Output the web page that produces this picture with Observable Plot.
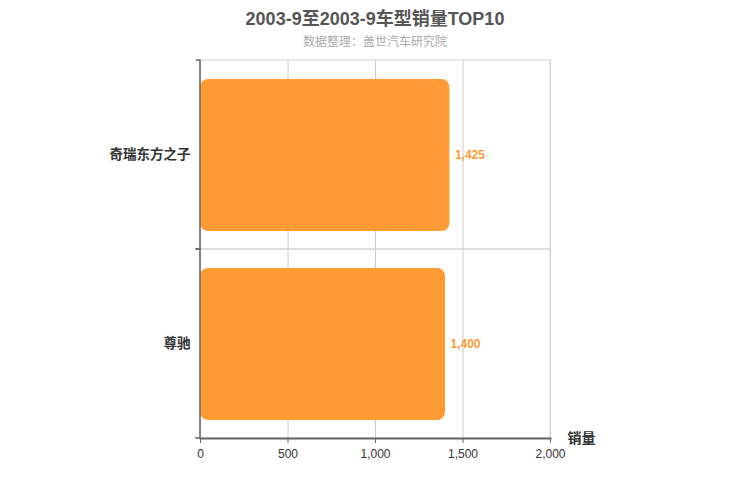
<!DOCTYPE html>
<html>
<head>
<meta charset="utf-8">
<script src="https://cdn.jsdelivr.net/npm/d3@7"></script>
<script src="https://cdn.jsdelivr.net/npm/@observablehq/plot@0.6"></script>
<style>
  body { margin: 0; background: #fff; font-family: "Liberation Sans", Arial, "Noto Sans CJK SC", sans-serif; }
  #wrap { position: relative; width: 750px; height: 500px; }
  #title { position: absolute; top: 4px; left: 0; width: 750px; text-align: center; font-size: 18px; font-weight: bold; color: #555; }
  #subtitle { position: absolute; top: 32px; left: 0; width: 750px; text-align: center; font-size: 12px; color: #aaa; }
</style>
</head>
<body>
<div id="wrap">
  <div id="chart"></div>
  <div id="title">2003-9至2003-9车型销量TOP10</div>
  <div id="subtitle">数据整理：盖世汽车研究院</div>
</div>
<script>
const categories = ["奇瑞东方之子", "尊驰"];
const sales = [1425, 1400];
const xTicks = [0, 500, 1000, 1500, 2000];
const xLabel = "销量";

const data = categories.map((c, i) => ({name: c, value: sales[i]}));
const orange = "#ff9b35";

const chart = Plot.plot({
  width: 750,
  height: 500,
  marginTop: 60,
  marginBottom: 62,
  marginLeft: 200,
  marginRight: 200,
  style: {fontFamily: '"Liberation Sans", Arial, "Noto Sans CJK SC", sans-serif', fontSize: "12px", color: "#333"},
  x: {domain: [0, 2000], ticks: xTicks},
  y: {domain: categories, padding: 0},
  marks: [
    Plot.gridX(xTicks, {stroke: "#ccc", strokeOpacity: 1}),
    Plot.rect(categories, {y: d => d, x1: 0, x2: 2000, fill: "none", stroke: "#d4d4d4"}),
    Plot.barX(data, {y: "name", x: "value", fill: orange, rx: 8, insetTop: 19, insetBottom: 18}),
    Plot.text(data, {y: "name", x: "value", text: d => d3.format(",")(d.value), dx: 5, textAnchor: "start", fill: orange, fontWeight: "bold", fontSize: 12}),
    Plot.rect(categories, {y: d => d, x1: 0, x2: 0, insetLeft: -4, fill: "none", stroke: "#666", strokeWidth: 1.5, strokeDasharray: "198 189"}),
    Plot.frame({anchor: "bottom", stroke: "#666", strokeWidth: 2}),
    Plot.axisX({ticks: xTicks, tickSize: 5, tickPadding: 6, stroke: "#666", fill: "#333", fontSize: 12, label: null}),
    Plot.axisY({tickSize: 0, tickPadding: 10, fill: "#333", fontSize: 13.5, fontWeight: "bold", label: null}),
    Plot.text([xLabel], {frameAnchor: "bottom-right", dx: 45, dy: 0, lineAnchor: "middle", textAnchor: "end", fontSize: 14, fontWeight: "bold", fill: "#333"})
  ]
});
document.getElementById("chart").appendChild(chart);
</script>
</body>
</html>
